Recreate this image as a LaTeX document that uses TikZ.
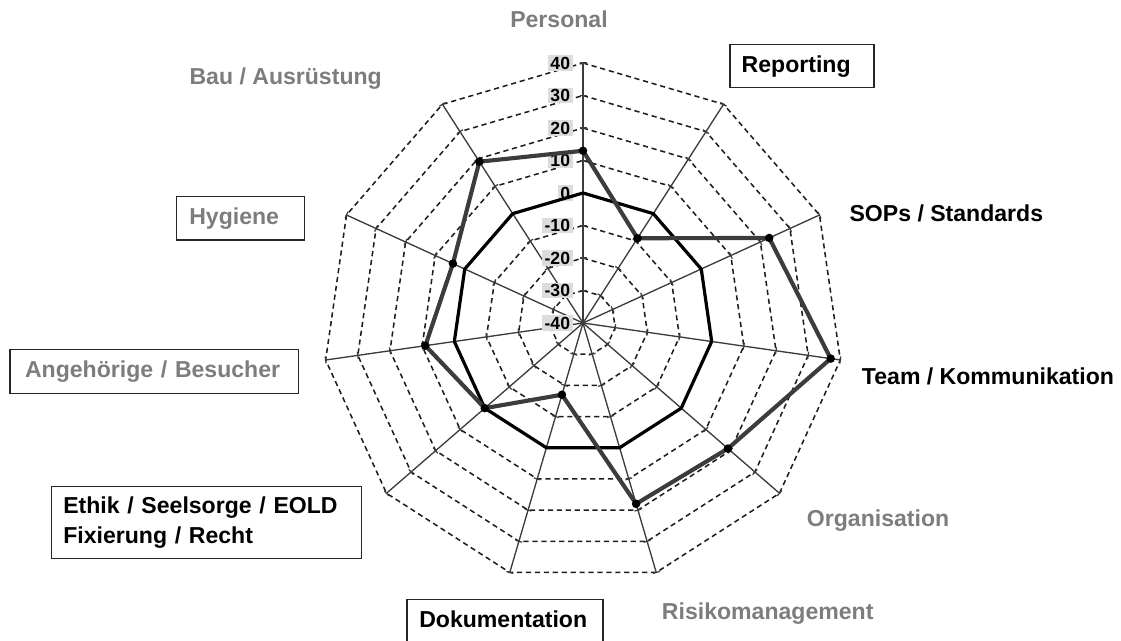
\documentclass[tikz,border=0pt]{standalone}
\usepackage{fontspec}
\setmainfont{Liberation Sans}
\definecolor{axisgray}{RGB}{60,60,60}
\definecolor{gridgray}{RGB}{30,30,30}
\definecolor{lblgray}{RGB}{125,125,125}
\definecolor{seriesgray}{RGB}{60,60,60}
\definecolor{tickbg}{RGB}{220,220,220}
\tikzset{
  gridring/.style={draw=gridgray, line width=1.15pt, dash pattern=on 3.9pt off 2.8pt},
  axisline/.style={draw=axisgray, line width=1pt},
  tickmark/.style={draw=axisgray, line width=0.9pt},
  zeroline/.style={draw=black, line width=2.4pt, line join=round},
  seriesline/.style={draw=seriesgray, line width=3.1pt, line join=round},
  marker/.style={fill=black},
  catfont/.style={font=\fontsize{17.3pt}{22.5pt}\selectfont\bfseries},
  catlbl/.style={catfont, inner sep=0pt, anchor=base west},
  catbox/.style={catfont, draw=black!85, line width=1.1pt, align=left,
    inner ysep=0pt},
  onebox/.style={catbox, text height=12.6pt, text depth=3pt},
  ticklbl/.style={font=\fontsize{13.2pt}{15pt}\selectfont\bfseries, fill=tickbg,
    inner xsep=2pt, inner ysep=1pt, anchor=east}
}
\begin{document}
\begin{tikzpicture}[x=0.75pt, y=-0.75pt]
\useasboundingbox (0,0) rectangle (1121,640);

% centre of the radar, radius 260 px for the range -40 .. 40
\coordinate (ctr) at (583,323);

% dashed value rings from -30 to 40
\foreach \v in {-30,-20,...,40} {
  \draw[gridring] plot[samples at={0,...,10}]
    ({583+3.25*(\v+40)*cos(90-\x*360/11)}, {323-3.25*(\v+40)*sin(90-\x*360/11)}) -- cycle;
}

% spokes and their tick marks
\foreach \k in {0,...,10} {
  \coordinate (ax\k) at ({583+260*cos(90-\k*360/11)}, {323-260*sin(90-\k*360/11)});
  \draw[axisline] (ctr) -- (ax\k);
  \foreach \v in {-30,-20,...,40} {
    \draw[tickmark]
      ({583+3.25*(\v+40)*cos(90-\k*360/11)-3.5*sin(90-\k*360/11)},
       {323-3.25*(\v+40)*sin(90-\k*360/11)-3.5*cos(90-\k*360/11)}) --
      ({583+3.25*(\v+40)*cos(90-\k*360/11)+3.5*sin(90-\k*360/11)},
       {323-3.25*(\v+40)*sin(90-\k*360/11)+3.5*cos(90-\k*360/11)});
  }
}

% scale labels on the vertical spoke
\foreach \v [count=\i] in {-40,-30,-20,-10,0,10,20,30,40} {
  \node[ticklbl] (tk\i) at (573, {323-3.25*(\v+40)}) {\v};
}

% reference polygon at value 0
\draw[zeroline] plot[samples at={0,...,10}]
  ({583+130*cos(90-\x*360/11)}, {323-130*sin(90-\x*360/11)}) -- cycle;

% data series
\foreach \val [count=\i from 0] in {13,-9,23,37,19,18,-17,0,9,4,19} {
  \coordinate (s\i) at ({583+3.25*(\val+40)*cos(90-\i*360/11)},
                        {323-3.25*(\val+40)*sin(90-\i*360/11)});
}
\draw[seriesline] (s0) -- (s1) -- (s2) -- (s3) -- (s4) -- (s5) -- (s6)
  -- (s7) -- (s8) -- (s9) -- (s10) -- cycle;
\foreach \i in {0,...,10} {
  \fill[marker] (s\i) circle[radius=3.2pt];
}

% category labels
\node[catlbl, text=lblgray] (personal) at (510,27) {Personal};
\node[catlbl, text=lblgray] (bau) at (189.3,84) {Bau / Ausrüstung};
\node[catlbl] (sops) at (849.3,221.7) {SOPs / Standards};
\node[catlbl] (team) at (861.7,384) {Team / Kommunikation};
\node[catlbl, text=lblgray] (orga) at (806.7,526) {Organisation};
\node[catlbl, text=lblgray] (risiko) at (661.7,619.3) {Risikomanagement};

% framed category labels
\node[onebox, text width=90.45pt, inner xsep=8.8pt, minimum height=32.55pt]
  (reporting) at (802,66) {Reporting};
\node[onebox, text=lblgray, text width=76.8pt, inner xsep=9.45pt, minimum height=32.5pt]
  (hygiene) at (240.5,218.3) {Hygiene};
\node[onebox, text=lblgray, text width=193.7pt, inner xsep=11.25pt, minimum height=33pt]
  (angeh) at (154.2,371.3) {Angehörige / Besucher};
\node[onebox, text width=128.55pt, inner xsep=9.2pt, minimum height=32.5pt]
  (doku) at (505,621) {Dokumentation};
\node[catbox, text width=215.1pt, inner xsep=8.7pt, minimum height=53.7pt]
  (ethik) at (206.7,522.5) {Ethik / Seelsorge / EOLD\\Fixierung / Recht};
\end{tikzpicture}
\end{document}
